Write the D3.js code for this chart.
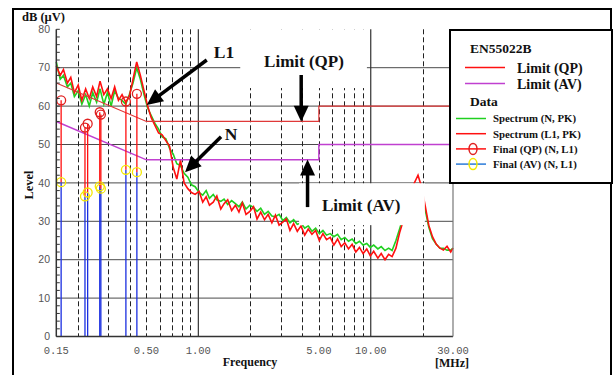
<!DOCTYPE html>
<html lang="en">
<head>
<meta charset="UTF-8">
<title>EN55022B conducted emission</title>
<script src="https://cdn.jsdelivr.net/npm/d3@7"></script>
<style>
    body { margin: 0; background: #fff; }
    svg { display: block; }
    .serif { font-family: "Liberation Serif", "Times New Roman", serif; font-weight: bold; fill: #111; }
</style>
</head>
<body>
<script>
    // ---- data ----
    const spectrumFreq = [
        0.150, 0.158, 0.165, 0.174, 0.182, 0.191, 0.201, 0.211, 0.222, 0.233,
        0.244, 0.257, 0.269, 0.283, 0.297, 0.312, 0.327, 0.344, 0.361, 0.379,
        0.398, 0.418, 0.439, 0.461, 0.484, 0.508, 0.533, 0.560, 0.588, 0.617,
        0.648, 0.681, 0.715, 0.750, 0.788, 0.827, 0.869, 0.912, 0.958, 1.01,
        1.06, 1.11, 1.16, 1.22, 1.28, 1.35, 1.41, 1.48, 1.56, 1.64,
        1.72, 1.80, 1.89, 1.99, 2.09, 2.19, 2.30, 2.42, 2.54, 2.67,
        2.80, 2.94, 3.09, 3.24, 3.40, 3.57, 3.75, 3.94, 4.14, 4.34,
        4.56, 4.79, 5.03, 5.28, 5.54, 5.82, 6.11, 6.42, 6.74, 7.07,
        7.43, 7.80, 8.19, 8.60, 9.03, 9.48, 9.95, 10.4, 11.0, 11.5,
        12.1, 12.7, 13.3, 14.0, 14.7, 15.4, 16.2, 17.0, 17.9, 18.8,
        19.7, 20.7, 21.7, 22.8, 24.0, 25.2, 26.4, 27.7, 29.1, 30.0
    ];
    const levelN = [
        71.5, 67, 68, 65, 66, 62.5, 64, 60.5, 63, 60,
        63.5, 61, 64.5, 60.5, 63.5, 60, 64, 62, 61.5, 60.5,
        63, 66, 70, 67, 63, 59.5, 57.5, 55.5, 54, 52,
        51.5, 49, 47.5, 45, 44.5, 42.5, 41.5, 39.5, 39, 37.5,
        36.8, 38.0, 36.0, 37.0, 35.6, 35.2, 35.8, 34.4, 35.4, 34.6,
        33.8, 35.0, 33.2, 34.2, 33.6, 32.6, 33.4, 31.8, 32.6, 31.4,
        31.2, 31.8, 30.2, 31.0, 29.6, 30.4, 29.2, 29.6, 28.2, 28.8,
        27.4, 28.2, 26.8, 27.6, 26.4, 26.8, 26.0, 26.6, 25.2, 25.8,
        24.8, 25.4, 24.2, 24.8, 23.8, 24.2, 23.2, 23.8, 22.8, 23.4,
        22.4, 23.0, 22.4, 25, 28, 31, 34, 36, 38, 39,
        37, 33, 28.5, 25.5, 24, 23, 23, 22.5, 22.5, 23
    ];
    const levelL1 = [
        70.5, 68, 69.5, 66, 67.5, 63.5, 65.5, 61.5, 64.5, 62,
        65, 62.5, 66.5, 63, 64.5, 62, 65, 61.5, 63, 61,
        62.5, 67, 71.5, 68, 64, 60, 57, 55, 53, 52.5,
        51, 49.5, 44, 41, 46, 40, 38.5, 37.5, 37, 37.8,
        35.0, 36.4, 34.2, 35.0, 36.6, 33.2, 34.6, 35.6, 32.8, 34.2,
        32.4, 34.8, 31.8, 32.6, 33.8, 30.6, 32.4, 30.4, 31.8, 29.6,
        31.6, 29.0, 29.8, 30.6, 27.6, 29.4, 27.4, 28.8, 26.4, 28.0,
        26.6, 27.6, 25.0, 26.8, 25.2, 25.8, 23.8, 25.4, 23.4, 24.4,
        22.8, 24.0, 22.0, 23.2, 21.6, 22.8, 21.0, 22.2, 20.4, 21.6,
        20.0, 21.4, 20.8, 23, 27, 30, 33, 36, 40, 42,
        39, 34, 29, 26, 24, 23, 22.5, 23.5, 22, 23
    ];

    const finalFreq = [0.160, 0.220, 0.228, 0.268, 0.272, 0.380, 0.440];
    const finalQP = [61.5, 54.4, 55.4, 58.4, 57.8, 61.2, 63.2];
    const finalAV = [40.2, 36.5, 37.5, 39.1, 38.5, 43.4, 42.8];

    const limitFreq = [0.15, 0.5, 5, 5, 30];
    const limitQP = [66, 56, 56, 60, 60];
    const limitAV = [56, 46, 46, 50, 50];

    const yTicks = [0, 10, 20, 30, 40, 50, 60, 70, 80];
    const xTickLabels = [0.15, 0.5, 1, 5, 10, 30];
    const solidFreq = [1, 10];
    const dashedFreq = [0.2, 0.3, 0.4, 0.5, 0.6, 0.7, 0.8, 0.9, 2, 3, 4, 5, 6, 7, 8, 9, 20];

    const legendLimits = ["Limit (QP)", "Limit (AV)"];
    const legendData = ["Spectrum (N, PK)", "Spectrum (L1, PK)", "Final (QP) (N, L1)", "Final (AV) (N, L1)"];

    // ---- setup ----
    const width = 613;
    const height = 375;
    const RED = "#ff1010";
    const GREEN = "#20d020";
    const PURPLE = "#c040d0";
    const BLUE = "#1a2ee0";
    const YELLOW = "#f4e800";

    const x = d3.scaleLog().domain([0.15, 30]).range([56.3, 453]);
    const y = d3.scaleLinear().domain([0, 80]).range([336.5, 29.3]);

    const svg = d3.select("body").append("svg").attr("width", width).attr("height", height);
    svg.append("rect").attr("width", width).attr("height", height).attr("fill", "#fff");

    // outer frame
    svg.append("rect").attr("x", 13).attr("y", 9).attr("width", 598).attr("height", 372)
        .attr("fill", "none").attr("stroke", "#000").attr("stroke-width", 2);

    const grid = svg.append("g");
    grid.selectAll(".hg").data(yTicks.filter(d => d > 0 && d < 80)).join("line")
        .attr("x1", x(0.15)).attr("x2", x(30))
        .attr("y1", d => y(d)).attr("y2", d => y(d))
        .attr("stroke", "#4a4a4a").attr("stroke-width", 1);
    grid.selectAll(".dv").data(dashedFreq).join("line")
        .attr("x1", d => Math.round(x(d)) + 0.5).attr("x2", d => Math.round(x(d)) + 0.5)
        .attr("y1", y(80)).attr("y2", y(0))
        .attr("stroke", "#222").attr("stroke-dasharray", "5,3");
    grid.selectAll(".sv").data(solidFreq).join("line")
        .attr("x1", d => x(d)).attr("x2", d => x(d))
        .attr("y1", y(80)).attr("y2", y(0))
        .attr("stroke", "#333").attr("stroke-width", 1.2);

    // spectra
    const spec = d3.line().x(d => x(d[0])).y(d => y(d[1]));
    svg.append("path").attr("d", spec(d3.zip(spectrumFreq, levelN)))
        .attr("fill", "none").attr("stroke", GREEN).attr("stroke-width", 1.6);
    svg.append("path").attr("d", spec(d3.zip(spectrumFreq, levelL1)))
        .attr("fill", "none").attr("stroke", RED).attr("stroke-width", 1.6);

    // limits
    svg.append("path").attr("d", spec(d3.zip(limitFreq, limitQP)))
        .attr("fill", "none").attr("stroke", "#e03838").attr("stroke-width", 1.2);
    svg.append("path").attr("d", spec(d3.zip(limitFreq, limitAV)))
        .attr("fill", "none").attr("stroke", PURPLE).attr("stroke-width", 1.5);

    // final measurements
    const finals = finalFreq.map((f, i) => ({ f, qp: finalQP[i], av: finalAV[i] }));
    const fg = svg.append("g");
    fg.selectAll(".bl").data(finals).join("line")
        .attr("x1", d => x(d.f)).attr("x2", d => x(d.f))
        .attr("y1", y(0)).attr("y2", d => y(d.av))
        .attr("stroke", BLUE).attr("stroke-width", 1.3);
    fg.selectAll(".rl").data(finals).join("line")
        .attr("x1", d => x(d.f)).attr("x2", d => x(d.f))
        .attr("y1", d => y(d.av)).attr("y2", d => y(d.qp))
        .attr("stroke", RED).attr("stroke-width", 1.3);
    fg.selectAll(".qc").data(finals).join("circle")
        .attr("cx", d => x(d.f)).attr("cy", d => y(d.qp)).attr("r", 4.5)
        .attr("fill", "none").attr("stroke", "#e02020").attr("stroke-width", 1.3);
    fg.selectAll(".ac").data(finals).join("circle")
        .attr("cx", d => x(d.f)).attr("cy", d => y(d.av)).attr("r", 4.5)
        .attr("fill", "none").attr("stroke", YELLOW).attr("stroke-width", 1.3);

    // axes
    svg.append("line").attr("x1", x(0.15)).attr("x2", x(0.15)).attr("y1", y(80)).attr("y2", y(0))
        .attr("stroke", "#333").attr("stroke-width", 1.5);
    svg.append("line").attr("x1", x(0.15)).attr("x2", x(30)).attr("y1", y(0)).attr("y2", y(0))
        .attr("stroke", "#333").attr("stroke-width", 1.5);
    svg.append("line").attr("x1", x(30)).attr("x2", x(30)).attr("y1", y(80)).attr("y2", y(0))
        .attr("stroke", "#777").attr("stroke-width", 1.2);
    svg.append("g").selectAll("line").data(d3.range(0, 81, 2)).join("line")
        .attr("x1", x(0.15)).attr("x2", x(0.15) + 3.5)
        .attr("y1", d => y(d)).attr("y2", d => y(d))
        .attr("stroke", "#333");

    svg.append("g").selectAll("text").data(yTicks).join("text")
        .attr("x", 50).attr("y", d => y(d)).attr("dy", "0.35em")
        .attr("text-anchor", "end")
        .attr("font-family", "'Liberation Sans', Arial, sans-serif").attr("font-size", 10.5)
        .attr("fill", "#555").text(d => d);
    svg.append("g").selectAll("text").data(xTickLabels).join("text")
        .attr("x", d => x(d)).attr("y", 354)
        .attr("text-anchor", "middle")
        .attr("font-family", "'Liberation Mono', 'Courier New', monospace").attr("font-size", 10.5)
        .attr("fill", "#555").text(d => d.toFixed(2));

    svg.append("text").attr("class", "serif").attr("x", 22).attr("y", 21)
        .attr("font-size", 12.5).text("dB (\u00b5V)");
    svg.append("text").attr("class", "serif").attr("transform", "translate(33,185) rotate(-90)")
        .attr("text-anchor", "middle").attr("font-size", 12.5).text("Level");
    svg.append("text").attr("class", "serif").attr("x", 250).attr("y", 366)
        .attr("text-anchor", "middle").attr("font-size", 12).text("Frequency");
    svg.append("text").attr("class", "serif").attr("x", 452).attr("y", 367)
        .attr("text-anchor", "middle").attr("font-size", 12).text("[MHz]");

    // annotation boxes (white patches over the plot)
    const boxes = [
        { f0: 1.75, f1: 9.5, db0: 64.7, db1: 80 },
        { f0: 3.84, f1: 20.6, db0: 29, db1: 39.9 }
    ];
    svg.append("g").selectAll("rect").data(boxes).join("rect")
        .attr("x", d => x(d.f0)).attr("y", d => y(d.db1))
        .attr("width", d => x(d.f1) - x(d.f0)).attr("height", d => y(d.db0) - y(d.db1))
        .attr("fill", "#fff");

    const arrow = (f1, db1, f2, db2) => {
        const x1 = x(f1), y1 = y(db1), x2 = x(f2), y2 = y(db2);
        const len = Math.hypot(x2 - x1, y2 - y1);
        const ux = (x2 - x1) / len, uy = (y2 - y1) / len;
        const hl = 16, hw = 7.5;
        const bx = x2 - ux * hl, by = y2 - uy * hl;
        svg.append("line").attr("x1", x1).attr("y1", y1).attr("x2", bx + ux).attr("y2", by + uy)
            .attr("stroke", "#000").attr("stroke-width", 3.5);
        svg.append("polygon")
            .attr("points", [[x2, y2], [bx - uy * hw, by + ux * hw], [bx + uy * hw, by - ux * hw]].join(" "))
            .attr("fill", "#000");
    };
    arrow(1.119, 72, 0.502, 60.3);
    arrow(1.354, 52, 0.837, 42.8);
    arrow(3.95, 68.1, 3.95, 55.9);
    arrow(4.30, 33.7, 4.30, 46.1);

    const notes = [
        { t: "L1", f: 1.41, db: 72.5, size: 17.5 },
        { t: "N", f: 1.55, db: 51.2, size: 17.5 },
        { t: "Limit (QP)", f: 4.1, db: 70.2, size: 17 },
        { t: "Limit (AV)", f: 8.8, db: 32.7, size: 17 }
    ];
    svg.append("g").selectAll("text").data(notes).join("text")
        .attr("class", "serif").attr("x", d => x(d.f)).attr("y", d => y(d.db))
        .attr("text-anchor", "middle").attr("font-size", d => d.size).text(d => d.t);

    // legend
    const lg = svg.append("g");
    lg.append("rect").attr("x", 450).attr("y", 30).attr("width", 162).attr("height", 153)
        .attr("fill", "#fff").attr("stroke", "#000").attr("stroke-width", 2);
    lg.append("text").attr("class", "serif").attr("x", 470).attr("y", 53).attr("font-size", 13.5).text("EN55022B");
    lg.append("text").attr("class", "serif").attr("x", 470).attr("y", 106).attr("font-size", 13.5).text("Data");
    const limitColors = [RED, PURPLE];
    legendLimits.forEach((t, i) => {
        const ly = 67.5 + i * 16;
        lg.append("line").attr("x1", 465).attr("x2", 505).attr("y1", ly).attr("y2", ly)
            .attr("stroke", limitColors[i]).attr("stroke-width", 1.5);
        lg.append("text").attr("class", "serif").attr("x", 517).attr("y", ly + 5)
            .attr("font-size", 14).text(t);
    });
    const dataColors = [GREEN, RED, RED, "#2a7ad8"];
    const markColors = [null, null, "#e02020", YELLOW];
    legendData.forEach((t, i) => {
        const ly = 118.5 + i * 15.2;
        lg.append("line").attr("x1", 456).attr("x2", 486).attr("y1", ly).attr("y2", ly)
            .attr("stroke", dataColors[i]).attr("stroke-width", 1.5);
        if (markColors[i]) {
            lg.append("ellipse").attr("cx", 473).attr("cy", ly).attr("rx", 4).attr("ry", 5.5)
                .attr("fill", "none").attr("stroke", markColors[i]).attr("stroke-width", 1.5);
        }
        lg.append("text").attr("class", "serif").attr("x", 493).attr("y", ly + 3.8)
            .attr("font-size", 10.8).text(t);
    });
</script>
</body>
</html>
